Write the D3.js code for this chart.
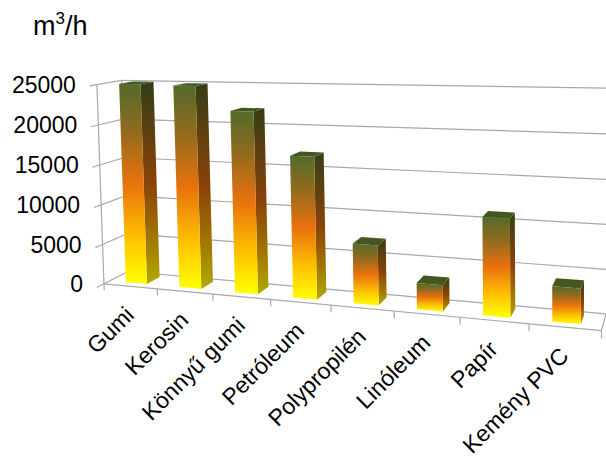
<!DOCTYPE html>
<html><head><meta charset="utf-8">
<script src="https://cdn.jsdelivr.net/npm/d3@7"></script>
<style>html,body{margin:0;padding:0;background:#fff;}svg{display:block;}</style>
</head><body>
<div id="chart"></div>
<script>
// ---- data ----
const categories = ["Gumi","Kerosin","Könnyű gumi","Petróleum","Polypropilén","Linóleum","Papír","Kemény PVC"];
const values = [25000, 24900, 22000, 16900, 7000, 3000, 11000, 3900];
const yTicks = [0, 5000, 10000, 15000, 20000, 25000];
const yMax = 25000;
const unitLabel = "m";

// ---- camera calibration (plot box corners in world -> screen) ----
// world: X in [0,8] categories, Y in [0,1] of yMax, Z in [0,1] front->back
const calib = [
  [0,0,0, 104,283],[0,1,0, 97,84.5],[8,0,0, 601,332],[8,0,1, 606,313],
  [0,0,1, 127.5,273],[0,1,1, 121,81.5],[8,1,1, 607,89],
  [1,0,0,159,288.4],[2,0,0,213,293.7],[3,0,0,272,299.6],[4,0,0,332,305.5],
  [5,0,0,393,311.5],[6,0,0,459,318],[7,0,0,528,324.8],
  [8,0.2,1,606.5,268],[8,0.4,1,606.5,223],[8,0.6,1,606.8,178],[8,0.8,1,607,135],
  [0,0.8,0,98.3,124.5],[0,0.6,0,99.6,164.5],[0,0.4,0,100.9,204.5],[0,0.2,0,102.2,244]
];
function solveLin(A, b){
  const n=b.length, M=A.map((r,i)=>r.concat([b[i]]));
  for(let c=0;c<n;c++){
    let p=c; for(let r=c+1;r<n;r++) if(Math.abs(M[r][c])>Math.abs(M[p][c])) p=r;
    [M[c],M[p]]=[M[p],M[c]];
    for(let r=0;r<n;r++){ if(r===c) continue; const f=M[r][c]/M[c][c]; for(let k=c;k<=n;k++) M[r][k]-=f*M[c][k]; }
  }
  return M.map((r,i)=>r[n]/r[i]);
}
const Pm = (function(){
  const rows=[], rhs=[];
  calib.forEach(([X,Y,Z,u,v])=>{
    const x=X/8, y=Y, z=Z, uu=(u-300)/300, vv=(v-200)/200;
    rows.push([x,y,z,1,0,0,0,0,-uu*x,-uu*y,-uu*z]); rhs.push(uu);
    rows.push([0,0,0,0,x,y,z,1,-vv*x,-vv*y,-vv*z]); rhs.push(vv);
  });
  const n=11, AtA=Array.from({length:n},()=>Array(n).fill(0)), Atb=Array(n).fill(0);
  rows.forEach((r,i)=>{ for(let a=0;a<n;a++){ Atb[a]+=r[a]*rhs[i]; for(let b=0;b<n;b++) AtA[a][b]+=r[a]*r[b]; } });
  return solveLin(AtA, Atb);
})();
function proj(X,Y,Z){
  const x=X/8, y=Y, z=Z, p=Pm;
  const w=p[8]*x+p[9]*y+p[10]*z+1;
  const u=(p[0]*x+p[1]*y+p[2]*z+p[3])/w, v=(p[4]*x+p[5]*y+p[6]*z+p[7])/w;
  return [300+300*u, 200+200*v];
}

// ---- scales ----
const xs = d3.scaleBand().domain(categories).range([0,8]).paddingInner(0.6).paddingOuter(0.3);
const ys = d3.scaleLinear().domain([0,yMax]).range([0,1]);
const Z0 = 0.25, Z1 = 0.8;

const W=606,H=458;
const svg = d3.select("#chart").append("svg").attr("width",W).attr("height",H);
const defs = svg.append("defs");
function grad(id, stops){
  const g=defs.append("linearGradient").attr("id",id).attr("x1",0).attr("y1",0).attr("x2",0).attr("y2",1);
  stops.forEach(([o,c])=>g.append("stop").attr("offset",o).attr("stop-color",c));
}
grad("gFront",[[0,"#536b2b"],[0.22,"#8d6a1f"],[0.5,"#ea720c"],[0.78,"#ffc400"],[1,"#ffff00"]]);
grad("gSide",[[0,"#363d17"],[0.5,"#8a4208"],[0.8,"#a37c00"],[1,"#b0aa00"]]);

const line = (a,b)=>"M"+a[0]+","+a[1]+"L"+b[0]+","+b[1];
const poly = pts=>"M"+pts.map(p=>p[0]+","+p[1]).join("L")+"Z";
const gridColor="#a8a8a8";
const g = svg.append("g").attr("fill","none").attr("stroke",gridColor).attr("stroke-width",1.2);

// back wall & side wall gridlines
yTicks.forEach(t=>{
  const y=ys(t);
  g.append("path").attr("d",line(proj(0,y,1),proj(8,y,1)));
  g.append("path").attr("d",line(proj(0,y,0),proj(0,y,1)));
  g.append("path").attr("d",line(proj(0,y,0),proj(0,y,-0.28)));
});
// wall edges & floor
g.append("path").attr("d",line(proj(0,0,0),proj(0,1,0)));
g.append("path").attr("d",line(proj(0,0,1),proj(0,1,1)));
g.append("path").attr("d",line(proj(0,0,0),proj(8,0,0)));
g.append("path").attr("d",line(proj(8,0,0),proj(8,0,1)));
for(let k=0;k<=8;k++) g.append("path").attr("d",line(proj(k,0,0),proj(k,-0.033,0)));

// bars
const bars = svg.append("g");
categories.forEach((c,i)=>{
  const X0=xs(c), X1=X0+xs.bandwidth(), Y1=ys(values[i]);
  const bg=bars.append("g");
  bg.append("path").attr("d",poly([proj(X1,0,Z0),proj(X1,0,Z1),proj(X1,Y1,Z1),proj(X1,Y1,Z0)])).attr("fill","url(#gSide)");
  bg.append("path").attr("d",poly([proj(X0,Y1,Z0),proj(X1,Y1,Z0),proj(X1,Y1,Z1),proj(X0,Y1,Z1)])).attr("fill","#44571f");
  bg.append("path").attr("d",poly([proj(X0,0,Z0),proj(X1,0,Z0),proj(X1,Y1,Z0),proj(X0,Y1,Z0)])).attr("fill","url(#gFront)");
});

// y labels
const font="'Liberation Sans', Arial, sans-serif";
yTicks.forEach(t=>{
  const p=proj(0,ys(t),0);
  svg.append("text").attr("x",p[0]-21).attr("y",p[1]).attr("dy","0.36em")
    .attr("text-anchor","end").attr("font-family",font).attr("font-size",23).attr("fill","#000").text(t);
});
// category labels
categories.forEach(c=>{
  const p=proj(xs(c)+xs.bandwidth()/2,0,0);
  const ax=p[0]+5, ay=p[1]+30;
  svg.append("text").attr("transform",`translate(${ax},${ay}) rotate(-45)`)
    .attr("text-anchor","end").attr("font-family",font).attr("font-size",23).attr("fill","#000").text(c);
});
// unit title
const tt=svg.append("text").attr("x",33).attr("y",35).attr("font-family",font).attr("font-size",27).attr("fill","#000");
tt.append("tspan").text(unitLabel);
tt.append("tspan").attr("font-size",17).attr("dy",-11).text("3");
tt.append("tspan").attr("dy",11).text("/h");
</script>
</body></html>
